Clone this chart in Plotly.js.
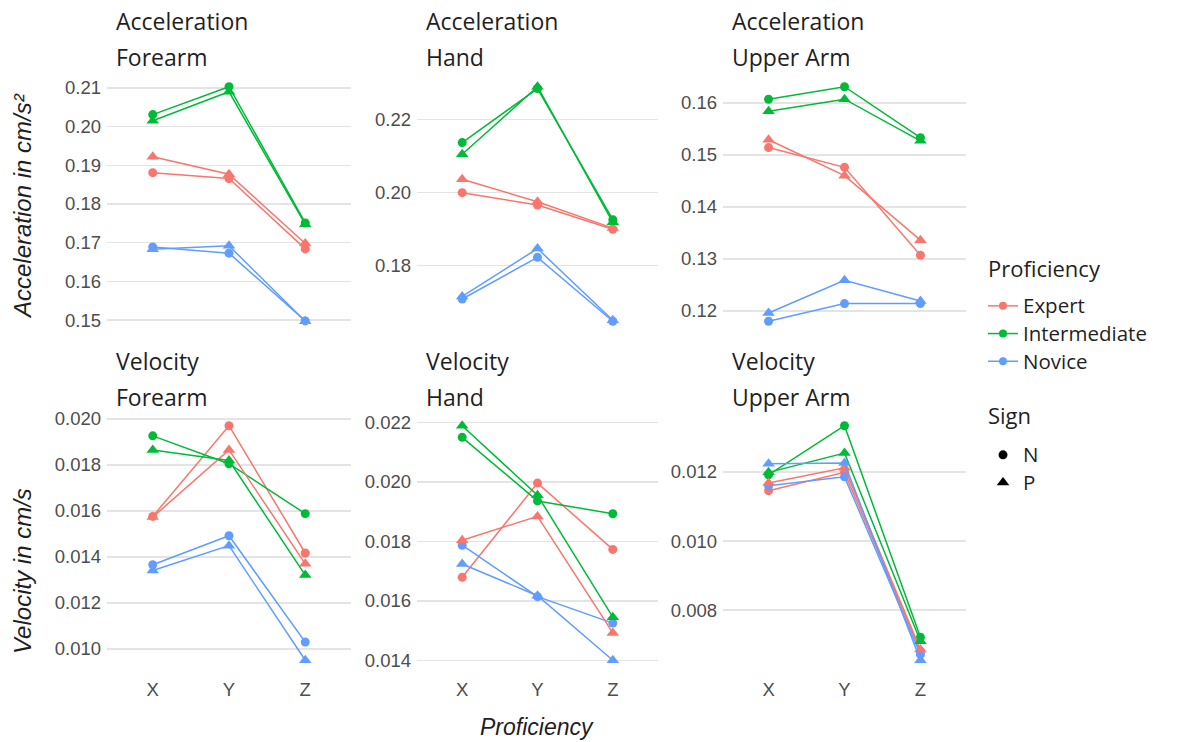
<!DOCTYPE html>
<html>
<head>
<meta charset="utf-8">
<script src="https://cdn.plot.ly/plotly-3.0.1.min.js"></script>
<style>
  html, body { margin: 0; padding: 0; background: #ffffff; }
  #chart { width: 1180px; height: 742px; }
</style>
</head>
<body>
<div id="chart"></div>
<script>
// Categories
const axisLabels = ["X", "Y", "Z"];
const proficiencyLevels = ["Expert", "Intermediate", "Novice"];
const signLevels = ["N", "P"];
const measures = ["Acceleration", "Velocity"];
const segments = ["Forearm", "Hand", "Upper Arm"];

// Mean values: rows = Expert, Intermediate, Novice; columns = X, Y, Z
const accForearmN = [[0.1881, 0.1866, 0.1684], [0.2031, 0.2103, 0.1751], [0.1689, 0.1673, 0.1498]];
const accForearmP = [[0.1922, 0.1877, 0.1698], [0.2015, 0.2090, 0.1748], [0.1683, 0.1692, 0.1497]];
const accHandN    = [[0.2000, 0.1966, 0.1900], [0.2137, 0.2285, 0.1926], [0.1709, 0.1823, 0.1648]];
const accHandP    = [[0.2037, 0.1975, 0.1903], [0.2105, 0.2290, 0.1919], [0.1716, 0.1847, 0.1651]];
const accUpperN   = [[0.1514, 0.1476, 0.1307], [0.1607, 0.1631, 0.1533], [0.1180, 0.1214, 0.1214]];
const accUpperP   = [[0.1529, 0.1460, 0.1336], [0.1584, 0.1607, 0.1527], [0.1196, 0.1259, 0.1219]];
const velForearmN = [[0.01576, 0.01970, 0.01417], [0.01926, 0.01805, 0.01588], [0.01366, 0.01492, 0.01030]];
const velForearmP = [[0.01573, 0.01865, 0.01370], [0.01865, 0.01819, 0.01321], [0.01341, 0.01449, 0.00951]];
const velHandN    = [[0.01679, 0.01996, 0.01773], [0.02150, 0.01936, 0.01893], [0.01787, 0.01614, 0.01525]];
const velHandP    = [[0.01804, 0.01884, 0.01492], [0.02189, 0.01955, 0.01545], [0.01724, 0.01617, 0.01400]];
const velUpperN   = [[0.01146, 0.01199, 0.00681], [0.01192, 0.01334, 0.00722], [0.01160, 0.01186, 0.00672]];
const velUpperP   = [[0.01168, 0.01212, 0.00686], [0.01199, 0.01255, 0.00710], [0.01224, 0.01226, 0.00655]];

// Facet panels, in reading order
const panels = [
  { measure: 0, segment: 0, n: accForearmN, p: accForearmP },
  { measure: 0, segment: 1, n: accHandN,    p: accHandP },
  { measure: 0, segment: 2, n: accUpperN,   p: accUpperP },
  { measure: 1, segment: 0, n: velForearmN, p: velForearmP },
  { measure: 1, segment: 1, n: velHandN,    p: velHandP },
  { measure: 1, segment: 2, n: velUpperN,   p: velUpperP }
];

// Styling
const proficiencyColors = ["#F8766D", "#00BA38", "#619CFF"];
const signSymbols = ["circle", "triangle-up"];
const signSizes = [9, 11];
const yTickStep = [0.01, 0.02, 0.01, 0.002, 0.002, 0.002];
const yTickFormat = [".2f", ".2f", ".2f", ".3f", ".3f", ".3f"];
const yTitles = ["Acceleration in cm/s\u00B2", "Velocity in cm/s"];

const W = 1180, H = 742;
const px = v => v / W;
const py = v => 1 - v / H;

// Panel frame in pixels
const colLeft = [107, 417, 723];
const colRight = [351, 658, 966];
const rowTop = [75, 414];
const rowBottom = [333, 672];

const tickFont = { family: "Liberation Sans, Arial, sans-serif", size: 18.5, color: "#4d4d4d" };
const stripFont = { family: "Open Sans, sans-serif", size: 23, color: "#1f1f1f" };
const titleFont = { family: "Liberation Sans, Arial, sans-serif", size: 24, color: "#1f1f1f", style: "italic" };
const xTitleFont = { family: "Liberation Sans, Arial, sans-serif", size: 23, color: "#1f1f1f", style: "italic" };
const legendFont = { family: "Open Sans, sans-serif", size: 19, color: "#1f1f1f" };
const legendTitleFont = { family: "Open Sans, sans-serif", size: 22, color: "#1f1f1f" };

const traces = [];
const layout = {
  width: W, height: H,
  margin: { l: 0, r: 0, t: 0, b: 0 },
  paper_bgcolor: "#ffffff",
  plot_bgcolor: "#ffffff",
  showlegend: true,
  hovermode: false,
  annotations: []
};

panels.forEach((pn, i) => {
  const k = i === 0 ? "" : String(i + 1);
  const r = Math.floor(i / 3), c = i % 3;

  [pn.n, pn.p].forEach((vals, s) => {
    vals.forEach((row, p) => {
      traces.push({
        type: "scatter",
        mode: "lines+markers",
        name: proficiencyLevels[p] + " " + signLevels[s],
        x: axisLabels,
        y: row,
        xaxis: "x" + k,
        yaxis: "y" + k,
        line: { color: proficiencyColors[p], width: 1.5 },
        marker: { color: proficiencyColors[p], symbol: signSymbols[s], size: signSizes[s] },
        showlegend: false
      });
    });
  });

  const all = pn.n.flat().concat(pn.p.flat());
  const lo = Math.min(...all), hi = Math.max(...all);
  const pad = (hi - lo) * 0.05;

  layout["xaxis" + k] = {
    domain: [px(colLeft[c]), px(colRight[c])],
    anchor: "y" + k,
    type: "category",
    categoryorder: "array",
    categoryarray: axisLabels,
    range: [-0.6, 2.6],
    showgrid: false, zeroline: false, showline: false,
    ticks: "",
    showticklabels: r === 1,
    tickfont: tickFont,
    ticklabelstandoff: 4,
    fixedrange: true,
    automargin: false
  };
  layout["yaxis" + k] = {
    domain: [py(rowBottom[r]), py(rowTop[r])],
    anchor: "x" + k,
    range: [lo - pad, hi + pad],
    tick0: 0,
    dtick: yTickStep[i],
    tickformat: yTickFormat[i],
    showgrid: true, gridcolor: "#e4e4e4", gridwidth: 1.4,
    zeroline: false, showline: false,
    ticks: "",
    tickfont: tickFont,
    ticklabelstandoff: 5,
    fixedrange: true,
    automargin: false
  };

  // Facet strip labels (two lines: measure, then segment)
  const stripY = r === 0 ? [21, 57] : [361, 397];
  const stripX = colLeft[c] + 7;
  layout.annotations.push(
    { text: measures[pn.measure], xref: "paper", yref: "paper", x: px(stripX), y: py(stripY[0]),
      xanchor: "left", yanchor: "middle", showarrow: false, font: stripFont },
    { text: segments[pn.segment], xref: "paper", yref: "paper", x: px(stripX), y: py(stripY[1]),
      xanchor: "left", yanchor: "middle", showarrow: false, font: stripFont }
  );
});

// Axis titles
layout.annotations.push(
  { text: yTitles[0], xref: "paper", yref: "paper", x: px(22), y: py(206), textangle: -90,
    xanchor: "center", yanchor: "middle", showarrow: false, font: titleFont },
  { text: yTitles[1], xref: "paper", yref: "paper", x: px(22), y: py(571), textangle: -90,
    xanchor: "center", yanchor: "middle", showarrow: false, font: titleFont },
  { text: "Proficiency", xref: "paper", yref: "paper", x: px(537), y: py(727),
    xanchor: "center", yanchor: "middle", showarrow: false, font: xTitleFont }
);

// Legend headings
layout.annotations.push(
  { text: "Proficiency", xref: "paper", yref: "paper", x: px(986), y: py(268),
    xanchor: "left", yanchor: "middle", showarrow: false, font: legendTitleFont },
  { text: "Sign", xref: "paper", yref: "paper", x: px(986), y: py(415),
    xanchor: "left", yanchor: "middle", showarrow: false, font: legendTitleFont }
);

// Legend keys
proficiencyLevels.forEach((lvl, p) => {
  traces.push({
    type: "scatter", mode: "lines+markers",
    name: '<span style="font-size:20.5px">' + lvl + "</span>",
    x: [null], y: [null],
    legend: "legend",
    line: { color: proficiencyColors[p], width: 1.5 },
    marker: { color: proficiencyColors[p], symbol: "circle", size: 8 },
    showlegend: true
  });
});
signLevels.forEach((sg, s) => {
  traces.push({
    type: "scatter", mode: "markers",
    name: '<span style="font-size:20.5px">' + sg + "</span>",
    x: [null], y: [null],
    legend: "legend2",
    marker: { color: "#000000", symbol: signSymbols[s], size: signSizes[s] },
    showlegend: true
  });
});

layout.legend = {
  x: px(983), xanchor: "left", y: py(287), yanchor: "top",
  bgcolor: "rgba(0,0,0,0)", traceorder: "normal",
  font: legendFont,
  itemclick: false, itemdoubleclick: false
};
layout.legend2 = {
  x: px(983), xanchor: "left", y: py(436), yanchor: "top",
  bgcolor: "rgba(0,0,0,0)", traceorder: "normal",
  font: legendFont,
  itemclick: false, itemdoubleclick: false
};

Plotly.newPlot("chart", traces, layout, { displayModeBar: false, staticPlot: true });
</script>
</body>
</html>
